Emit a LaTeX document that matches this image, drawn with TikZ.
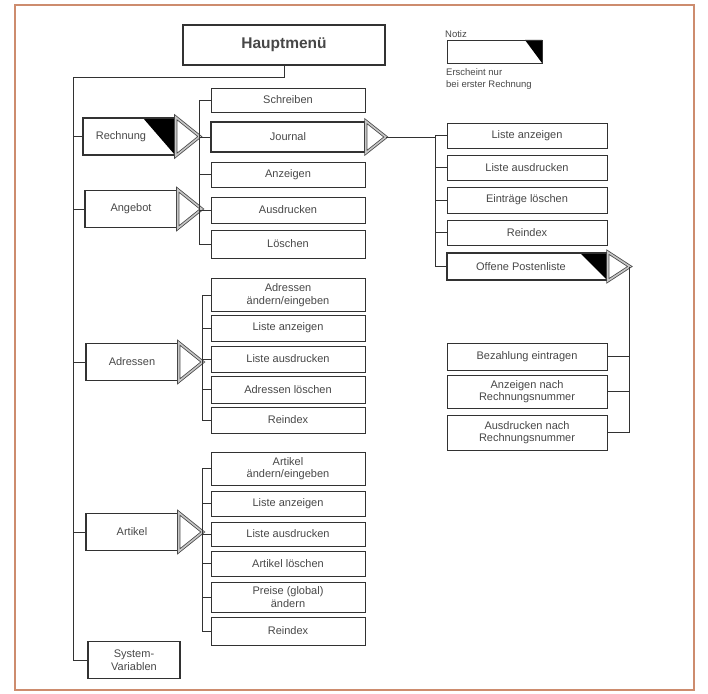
\documentclass[tikz,border=0pt]{standalone}
\usepackage{fontspec}
\setmainfont{Liberation Sans}
\usepackage{xcolor}
\usetikzlibrary{arrows.meta,positioning}
\definecolor{framec}{RGB}{205,140,110}
\definecolor{ink}{RGB}{50,50,50}

\begin{document}
\begin{tikzpicture}[x=1pt, y=-1pt,
  font=\fontsize{11}{12.5}\selectfont, text=black!72,
  box/.style={draw=ink, line width=0.9pt, align=center, inner sep=2pt},
  item/.style={box, minimum width=154pt, minimum height=26pt},
  jitem/.style={item, minimum width=160pt},
  menu/.style={box, line width=1.6pt, minimum width=92pt, minimum height=37pt},
  hot/.style={line width=1.7pt},
  corner/.style={path picture={\fill[black] (path picture bounding box.north east)
      -- (path picture bounding box.south east)
      -- ([xshift=-#1]path picture bounding box.north east) -- cycle;}},
  tri/.style={draw=ink!90, line width=0.8pt, double=black!22, double distance=1.6pt},
  link/.style={draw=ink, line width=0.9pt}]
\useasboundingbox (0,0) rectangle (708,693);
\draw[framec, line width=1.3pt] (15,5) rectangle (694,690);

% main menu
\node[box, line width=1.5pt, minimum width=202pt, minimum height=40pt,
      font=\bfseries\fontsize{15.5}{17}\selectfont] (haupt) at (284,45) {Hauptmenü};
\node[menu, corner=32pt] (rech) at (129,136.5) {Rechnung\hspace*{16pt}};
\node[menu] (ang) at (131,209) {Angebot};
\node[menu] (adr) at (132,362) {Adressen};
\node[menu] (art) at (132,532) {Artikel};
\node[menu] (sysv) at (134,660) {System-\\Variablen};
\coordinate (trunk) at (73,77);
\draw[link] (haupt.south) -- (haupt.south |- trunk) -- (trunk);
\foreach \n in {rech,ang,adr,art,sysv} \draw[link] (trunk) |- (\n.west);
\foreach \n in {rech,ang,adr,art}
  \draw[tri] (\n.north east) -- ([xshift=24pt]\n.east) coordinate (\n-a) -- (\n.south east) -- cycle;

% Rechnung / Angebot
\node[item, minimum height=24pt] (r1) at (288,100) {Schreiben};
\node[item, hot, minimum height=30pt] (r2) at (288,137) {Journal};
\node[item, minimum height=25pt] (r3) at (288,174.5) {Anzeigen};
\node[item] (r4) at (288,210) {Ausdrucken};
\node[item, minimum height=28pt] (r5) at (288,244) {Löschen};
\foreach \i in {1,...,5} \draw[link] (rech-a) |- (r\i.west);

% Journal
\draw[tri] (r2.north east) -- ([xshift=20pt]r2.east) coordinate (r2-a) -- (r2.south east) -- cycle;
\draw[link] (r2-a) -- ++(50,0) coordinate (jb);
\node[jitem, minimum height=25pt] (j1) at (527,135.5) {Liste anzeigen};
\node[jitem, minimum height=25pt] (j2) at (527,167.5) {Liste ausdrucken};
\node[jitem] (j3) at (527,200) {Einträge löschen};
\node[jitem, minimum height=25pt] (j4) at (527,232.5) {Reindex};
\node[jitem, hot, minimum height=27pt, corner=27pt] (j5) at (527,266.5) {Offene Postenliste\hspace*{12pt}};
\foreach \i in {1,...,5} \draw[link] (jb) |- (j\i.west);

% Offene Postenliste
\draw[tri] (j5.north east) -- ([xshift=22pt]j5.east) coordinate (j5-a) -- (j5.south east) -- cycle;
\node[jitem, minimum height=27pt] (o1) at (527,356.5) {Bezahlung eintragen};
\node[jitem, minimum height=33pt] (o2) at (527,391.5) {Anzeigen nach\\Rechnungsnummer};
\node[jitem, minimum height=35pt] (o3) at (527,432.5) {Ausdrucken nach\\Rechnungsnummer};
\foreach \i in {1,2,3} \draw[link] (j5-a) |- (o\i.east);

% Adressen
\node[item, minimum height=33pt] (a1) at (288,295) {Adressen\\ändern/eingeben};
\node[item] (a2) at (288,328) {Liste anzeigen};
\node[item] (a3) at (288,359) {Liste ausdrucken};
\node[item, minimum height=27pt] (a4) at (288,389.5) {Adressen löschen};
\node[item] (a5) at (288,420) {Reindex};
\foreach \i in {1,...,5} \draw[link] (adr-a) |- (a\i.west);

% Artikel
\node[item, minimum height=33pt] (p1) at (288,468.5) {Artikel\\ändern/eingeben};
\node[item, minimum height=25pt] (p2) at (288,503.5) {Liste anzeigen};
\node[item, minimum height=24pt] (p3) at (288,534) {Liste ausdrucken};
\node[item, minimum height=25pt] (p4) at (288,563.5) {Artikel löschen};
\node[item, minimum height=30pt] (p5) at (288,597) {Preise (global)\\ändern};
\node[item, minimum height=28pt] (p6) at (288,631) {Reindex};
\foreach \i in {1,...,6} \draw[link] (art-a) |- (p\i.west);

% legend
\node[anchor=west, inner sep=0pt, font=\fontsize{9.5}{11}\selectfont] (notiz) at (445,34) {Notiz};
\node[box, minimum width=95pt, minimum height=23pt, corner=17pt] (leg) at (494.5,51.5) {};
\node[anchor=north west, align=left, inner sep=0pt, font=\fontsize{9.5}{12}\selectfont]
  (legtxt) at (446,68) {Erscheint nur\\bei erster Rechnung};
\end{tikzpicture}
\end{document}
